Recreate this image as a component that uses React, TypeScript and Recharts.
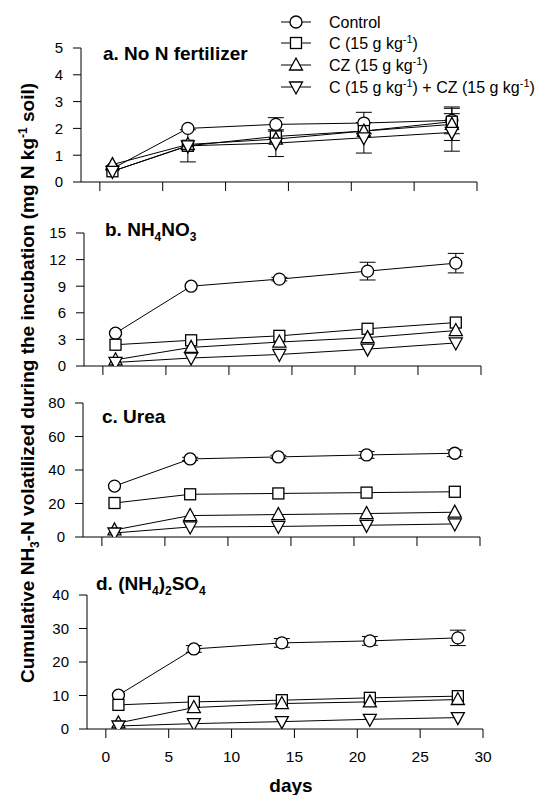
import React from 'react';
import { LineChart, Line, XAxis, YAxis, ErrorBar, Legend } from 'recharts';

// ---- data ----
const DAYS = [1, 7, 14, 21, 28];
const X_TICKS = [0, 5, 10, 15, 20, 25, 30];

// a. No N fertilizer
const A_CONTROL = [0.5, 2.0, 2.15, 2.2, 2.3];
const A_CONTROL_ERR = [0, 0, 0.25, 0.4, 0.5];
const A_C = [0.4, 1.35, 1.7, 1.9, 2.25];
const A_C_ERR = [0, 0, 0, 0, 0];
const A_CZ = [0.65, 1.4, 1.6, 1.9, 2.15];
const A_CZ_ERR = [0, 0, 0, 0, 0.6];
const A_CCZ = [0.4, 1.35, 1.45, 1.65, 1.85];
const A_CCZ_ERR = [0, 0.6, 0.5, 0.57, 0.7];
const A_TICKS = [0, 1, 2, 3, 4, 5];

// b. NH4NO3
const B_CONTROL = [3.7, 9.0, 9.8, 10.7, 11.6];
const B_CONTROL_ERR = [0, 0, 0.2, 1.0, 1.1];
const B_C = [2.4, 2.9, 3.4, 4.2, 4.9];
const B_CZ = [0.7, 2.1, 2.7, 3.2, 4.0];
const B_CCZ = [0.4, 0.9, 1.3, 1.9, 2.6];
const B_TICKS = [0, 3, 6, 9, 12, 15];

// c. Urea
const C_CONTROL = [30.4, 46.6, 47.8, 49, 50];
const C_CONTROL_ERR = [0, 1, 1, 2, 2];
const C_C = [20.3, 25.5, 26, 26.5, 27];
const C_CZ = [4.2, 12.8, 13.4, 14, 14.8];
const C_CCZ = [2.4, 6, 6.3, 7, 7.8];
const C_TICKS = [0, 20, 40, 60, 80];

// d. (NH4)2SO4
const D_CONTROL = [10.1, 23.9, 25.7, 26.3, 27.2];
const D_CONTROL_ERR = [0, 1, 1.3, 1.3, 2.3];
const D_C = [7.2, 8.1, 8.6, 9.3, 9.8];
const D_CZ = [1.8, 6.4, 7.6, 8.1, 8.8];
const D_CCZ = [0.9, 1.6, 2.2, 2.9, 3.4];
const D_TICKS = [0, 10, 20, 30, 40];

const ZERO = [0, 0, 0, 0, 0];

const SERIES = [
  { key: 'control', name: 'Control', shape: 'circle' },
  { key: 'c', name: 'C', shape: 'square' },
  { key: 'cz', name: 'CZ', shape: 'up' },
  { key: 'ccz', name: 'C+CZ', shape: 'down' },
];

function build(ctrl: number[], ctrlE: number[], c: number[], cE: number[], cz: number[], czE: number[], ccz: number[], cczE: number[]) {
  return DAYS.map((d, i) => ({
    day: d,
    control: ctrl[i], controlErr: ctrlE[i],
    c: c[i], cErr: cE[i],
    cz: cz[i], czErr: czE[i],
    ccz: ccz[i], cczErr: cczE[i],
  }));
}

const DATA_A = build(A_CONTROL, A_CONTROL_ERR, A_C, A_C_ERR, A_CZ, A_CZ_ERR, A_CCZ, A_CCZ_ERR);
const DATA_B = build(B_CONTROL, B_CONTROL_ERR, B_C, ZERO, B_CZ, ZERO, B_CCZ, ZERO);
const DATA_C = build(C_CONTROL, C_CONTROL_ERR, C_C, ZERO, C_CZ, ZERO, C_CCZ, ZERO);
const DATA_D = build(D_CONTROL, D_CONTROL_ERR, D_C, ZERO, D_CZ, ZERO, D_CCZ, ZERO);

const FONT = '"Liberation Sans", Arial, Helvetica, sans-serif';

function MarkerShape({ cx, cy, shape }: { cx: number; cy: number; shape: string }) {
  const common = { fill: '#fff', stroke: '#000', strokeWidth: 1.3 };
  if (shape === 'circle') return <circle cx={cx} cy={cy} r={6} {...common} />;
  if (shape === 'square') return <rect x={cx - 5.5} y={cy - 5.5} width={11} height={11} {...common} />;
  if (shape === 'up') return <path d={`M${cx},${cy - 7} L${cx + 6.5},${cy + 5} L${cx - 6.5},${cy + 5} Z`} {...common} />;
  return <path d={`M${cx},${cy + 7} L${cx + 6.5},${cy - 5} L${cx - 6.5},${cy - 5} Z`} {...common} />;
}

const makeDot = (shape: string) => (props: any) => {
  const { cx, cy, index } = props;
  if (cx == null || cy == null) return <g key={`d-${shape}-${index}`} />;
  return (
    <g key={`d-${shape}-${index}`}>
      <MarkerShape cx={cx} cy={cy} shape={shape} />
    </g>
  );
};

const NoTick = () => <g />;

function LegendBox() {
  const rows = [
    { shape: 'circle', y: 22 },
    { shape: 'square', y: 43 },
    { shape: 'up', y: 65 },
    { shape: 'down', y: 87 },
  ];
  const txt = (i: number) => {
    if (i === 0) return <tspan>Control</tspan>;
    if (i === 1) return <><tspan>C (15 g kg</tspan><tspan fontSize={11} dy={-6}>-1</tspan><tspan dy={6}>)</tspan></>;
    if (i === 2) return <><tspan>CZ (15 g kg</tspan><tspan fontSize={11} dy={-6}>-1</tspan><tspan dy={6}>)</tspan></>;
    return <><tspan>C (15 g kg</tspan><tspan fontSize={11} dy={-6}>-1</tspan><tspan dy={6}>) + CZ (15 g kg</tspan><tspan fontSize={11} dy={-6}>-1</tspan><tspan dy={6}>)</tspan></>;
  };
  return (
    <svg width={270} height={100} style={{ display: 'block' }}>
      {rows.map((r, i) => (
        <g key={i}>
          <line x1={3} x2={33} y1={r.y} y2={r.y} stroke="#000" strokeWidth={1} />
          <MarkerShape cx={18} cy={r.y} shape={r.shape} />
          <text x={51} y={r.y + 6} fontFamily={FONT} fontSize={16} fill="#000">{txt(i)}</text>
        </g>
      ))}
    </svg>
  );
}

type PanelProps = {
  top: number; height: number; mTop: number; left: number; right: number; xh: number;
  yDomain: [number, number]; yTicks: number[]; data: any[]; showX: boolean; legend?: boolean;
};

function Panel({ top, height, mTop, left, right, xh, yDomain, yTicks, data, showX, legend }: PanelProps) {
  return (
    <div style={{ position: 'absolute', left: 0, top }}>
      <LineChart width={548} height={height} data={data} margin={{ top: mTop, right: 548 - right, left: 0, bottom: 0 }}>
        <XAxis
          dataKey="day" type="number" domain={[-1.5, 30]} ticks={X_TICKS} allowDataOverflow interval={0}
          height={xh} tickSize={9} tickMargin={13}
          axisLine={{ stroke: '#000', strokeWidth: 1 }} tickLine={{ stroke: '#000', strokeWidth: 1 }}
          tick={showX ? { fill: '#000', fontSize: 15.5, fontFamily: FONT } : NoTick}
        />
        <YAxis
          type="number" domain={yDomain} ticks={yTicks} allowDataOverflow interval={0}
          width={left} tickSize={8} tickMargin={10}
          axisLine={{ stroke: '#000', strokeWidth: 1 }} tickLine={{ stroke: '#000', strokeWidth: 1 }}
          tick={{ fill: '#000', fontSize: 15, fontFamily: FONT }}
        />
        {legend ? (
          <Legend
            layout="vertical" align="center" verticalAlign="middle"
            wrapperStyle={{ position: 'absolute', left: 278, top: 0, width: 270, height: 100, margin: 0, padding: 0 }}
            content={() => <LegendBox />}
          />
        ) : null}
        {SERIES.map((s) => (
          <Line
            key={s.key} dataKey={s.key} name={s.name} stroke="#000" strokeWidth={1}
            isAnimationActive={false} dot={makeDot(s.shape)} activeDot={false} type="linear"
          >
            <ErrorBar dataKey={`${s.key}Err`} width={8} stroke="#000" strokeWidth={1} direction="y" />
          </Line>
        ))}
      </LineChart>
    </div>
  );
}

export default function App() {
  const SUB = 12;
  return (
    <div style={{ position: 'absolute', left: 0, top: 0, width: 548, height: 795, background: '#fff', overflow: 'hidden' }}>
      <Panel top={0} height={202} mTop={48} left={81} right={477} xh={20} yDomain={[0, 5]} yTicks={A_TICKS} data={DATA_A} showX={false} legend />
      <Panel top={210} height={176} mTop={23} left={84} right={481} xh={20} yDomain={[0, 15]} yTicks={B_TICKS} data={DATA_B} showX={false} />
      <Panel top={390} height={167} mTop={13} left={83} right={480} xh={20} yDomain={[0, 80]} yTicks={C_TICKS} data={DATA_C} showX={false} />
      <Panel top={580} height={215} mTop={15} left={87} right={483} xh={66} yDomain={[0, 40]} yTicks={D_TICKS} data={DATA_D} showX />
      <svg width={548} height={795} style={{ position: 'absolute', left: 0, top: 0, pointerEvents: 'none' }}>
        <g fontFamily={FONT} fontWeight="bold" fontSize={19} fill="#000">
          <text x={103} y={60}>a. No N fertilizer</text>
          <text x={105} y={236}>
            <tspan>b. NH</tspan><tspan fontSize={SUB} dy={5}>4</tspan><tspan dy={-5}>NO</tspan><tspan fontSize={SUB} dy={5}>3</tspan>
          </text>
          <text x={102} y={423}>c. Urea</text>
          <text x={96} y={590}>
            <tspan>d. (NH</tspan><tspan fontSize={SUB} dy={5}>4</tspan><tspan dy={-5}>)</tspan><tspan fontSize={SUB} dy={5}>2</tspan><tspan dy={-5}>SO</tspan><tspan fontSize={SUB} dy={5}>4</tspan>
          </text>
          <text x={291} y={792} textAnchor="middle">days</text>
          <text transform="rotate(-90)" x={-383} y={34} textAnchor="middle" fontSize={19}>
            <tspan>Cumulative NH</tspan><tspan fontSize={SUB} dy={5}>3</tspan><tspan dy={-5}>-N volatilized during the incubation (mg N kg</tspan><tspan fontSize={SUB} dy={-7}>-1</tspan><tspan dy={7}> soil)</tspan>
          </text>
        </g>
      </svg>
    </div>
  );
}
